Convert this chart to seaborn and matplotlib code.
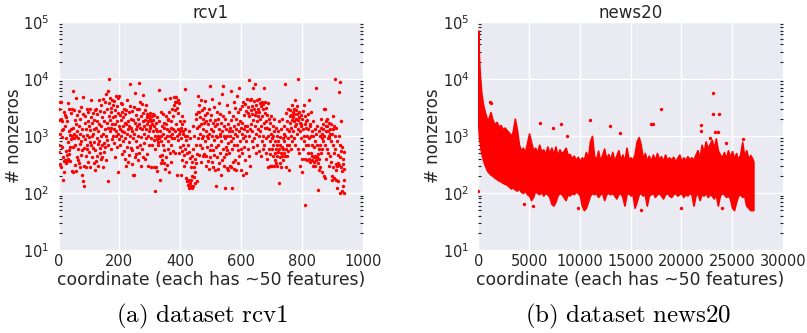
import matplotlib
matplotlib.use("Agg")
import matplotlib.pyplot as plt
from matplotlib.ticker import LogLocator, NullFormatter
import seaborn as sns
import numpy as np
import pandas as pd

# rcv1: nonzeros per coordinate (coordinate = position in the list)
rcv1_nnz = [
    700, 3000, 520, 1900, 320, 4000, 1100, 2000, 280, 3900, 1250, 650, 1800, 950, 170, 1300, 420, 2600, 360, 230,
    1500, 380, 2300, 550, 900, 330, 2100, 460, 1800, 360, 3700, 780, 400, 1200, 480, 2900, 560, 1050, 360, 640,
    2500, 880, 1300, 240, 1000, 3000, 650, 1400, 230, 6000, 900, 2800, 1100, 310, 1900, 700, 240, 1600, 1000, 4600,
    420, 1200, 2300, 600, 380, 900, 2700, 330, 1500, 720, 2000, 280, 1100, 460, 3200, 800, 210, 1300, 560, 2400,
    160, 1000, 4800, 300, 620, 130, 1700, 880, 2200, 290, 1300, 450, 2900, 700, 1050, 600, 1800, 350, 2600, 950,
    1500, 520, 3000, 780, 1250, 290, 2100, 680, 4300, 1000, 420, 1700, 620, 2500, 1100, 340, 1900, 780, 1300, 250,
    2800, 560, 1400, 370, 3000, 900, 1800, 450, 2400, 720, 1200, 300, 4200, 820, 1600, 510, 2700, 610, 1000, 390,
    1500, 3500, 690, 2100, 430, 1100, 4500, 280, 1800, 760, 2600, 520, 1300, 3900, 640, 1000, 5500, 380, 1700, 860,
    2900, 160, 1400, 6000, 700, 2200, 3700, 10000, 1200, 4700, 1900, 590, 2600, 1400, 3100, 880, 4200, 1600, 2100, 1000,
    3500, 1300, 4100, 750, 2200, 1600, 420, 2800, 1200, 5000, 980, 3300, 650, 1800, 2500, 1100, 4600, 230, 1500, 870,
    4900, 1300, 2300, 700, 3800, 1000, 1900, 480, 2600, 1200, 3600, 820, 1500, 2100, 550, 3000, 1150, 1700, 400, 2400,
    900, 1600, 300, 2800, 1100, 4200, 650, 1800, 350, 1300, 2600, 780, 1500, 460, 3300, 1000, 8000, 620, 2000, 1400,
    560, 2700, 320, 1200, 210, 1900, 900, 210, 3200, 1100, 5600, 420, 1700, 800, 2300, 480, 1300, 2900, 650, 1500,
    2000, 380, 1000, 8500, 1600, 500, 3000, 700, 1400, 4000, 2200, 300, 950, 3600, 1300, 600, 2500, 420, 1800, 5200,
    1100, 750, 1500, 2800, 400, 1900, 3500, 900, 1300, 2100, 480, 1600, 2400, 1000, 1800, 300, 2200, 1200, 700, 1500,
    2000, 1400, 2500, 900, 1800, 290, 2200, 1600, 700, 2400, 1200, 1900, 280, 850, 1500, 2300, 600, 1000, 110, 1700,
    280, 1300, 870, 240, 2100, 1200, 680, 1000, 780, 6400, 900, 1800, 440, 1200, 170, 800, 2600, 330, 1000, 460,
    1500, 380, 2400, 700, 1100, 330, 1700, 560, 1400, 260, 4500, 900, 1600, 420, 2200, 1000, 310, 1300, 600, 2000,
    800, 1900, 230, 1200, 2600, 500, 1000, 4600, 700, 1400, 350, 1800, 900, 3000, 1100, 550, 2200, 1300, 4800, 900,
    3500, 1200, 4000, 2800, 500, 3900, 1600, 4800, 1000, 3100, 210, 1300, 4200, 850, 2500, 1100, 3700, 500, 1800, 1200,
    650, 1400, 210, 900, 1600, 550, 2200, 380, 1200, 700, 1100, 460, 1800, 300, 1000, 6500, 600, 1300, 350, 850,
    180, 1000, 160, 500, 140, 700, 170, 1200, 120, 520, 160, 410, 150, 900, 130, 280, 170, 450, 120, 350,
    200, 1500, 130, 600, 190, 280, 1000, 150, 400, 230, 2400, 330, 700, 2000, 160, 1400, 490, 2600, 900, 5000,
    1500, 2600, 460, 3500, 1100, 700, 2100, 350, 1600, 4200, 900, 2800, 620, 1300, 450, 2000, 1000, 3100, 1700, 480,
    2300, 800, 4100, 1200, 300, 1800, 450, 1000, 2500, 630, 370, 1600, 900, 3000, 260, 1100, 560, 1900, 420, 7500,
    1300, 700, 2300, 350, 1000, 4500, 560, 1700, 290, 1200, 850, 3200, 470, 1500, 250, 1900, 130, 1000, 640, 2600,
    430, 1600, 950, 260, 2000, 700, 1300, 340, 3700, 1000, 500, 2400, 1100, 210, 1700, 800, 5500, 380, 1200, 600,
    2200, 7500, 1000, 420, 1500, 300, 900, 120, 2000, 650, 1300, 480, 3500, 270, 1000, 560, 1600, 750, 250, 1200,
    500, 2600, 1000, 300, 1400, 6000, 280, 800, 1900, 120, 600, 1200, 350, 2200, 900, 260, 1500, 4000, 700, 1100,
    380, 3100, 1300, 250, 2000, 700, 5000, 1000, 1600, 330, 2600, 560, 1200, 7000, 450, 1800, 800, 2900, 600, 1400,
    250, 1100, 3300, 500, 1700, 210, 900, 4000, 650, 1300, 2300, 380, 1000, 3600, 1500, 220, 2700, 800, 1200, 4500,
    1500, 2500, 600, 3200, 9500, 1000, 2200, 450, 4300, 1300, 300, 2800, 1600, 4500, 800, 3400, 1200, 2400, 650, 7000,
    1900, 4100, 900, 3000, 8000, 1500, 2300, 500, 3500, 1100, 2600, 4200, 700, 1800, 3000, 1300, 2200, 550, 4500, 1000,
    2600, 3700, 1200, 2000, 450, 3300, 1500, 800, 4000, 2200, 600, 2900, 1000, 3600, 1700, 6800, 700, 2500, 1400, 4000,
    500, 1800, 3100, 900, 2300, 400, 1400, 3800, 280, 1000, 2000, 600, 1300, 300, 800, 1700, 480, 1100, 300, 2200,
    600, 900, 300, 1500, 450, 1000, 700, 2000, 300, 1200, 500, 800, 380, 1400, 600, 330, 1000, 450, 700, 300,
    1200, 520, 800, 150, 600, 1800, 420, 950, 330, 700, 500, 1300, 290, 650, 2000, 440, 900, 600, 380, 1100,
    500, 1500, 800, 8000, 450, 1000, 600, 2500, 280, 1300, 700, 450, 1800, 900, 3000, 550, 1200, 250, 700, 2200,
    1700, 2800, 1000, 600, 2300, 1400, 3500, 800, 1900, 2100, 2600, 1200, 3000, 1800, 900, 2400, 1500, 4200, 700, 2000,
    2800, 1600, 3300, 1100, 2400, 600, 1900, 10000, 1300, 2100, 500, 2600, 1700, 300, 1200, 2300, 1500, 900, 1600, 230,
    2000, 400, 1300, 2700, 600, 1000, 3500, 800, 1600, 400, 2200, 62, 1800, 700, 1400, 380, 1900, 1000, 2400, 500,
    1300, 700, 4300, 400, 900, 1500, 1600, 350, 1000, 2600, 500, 1200, 380, 700, 450, 1800, 300, 1000, 420, 650,
    350, 1300, 450, 800, 300, 6800, 1100, 380, 700, 420, 1500, 330, 112, 480, 250, 1200, 600, 400, 1000, 280,
    700, 1400, 500, 2000, 900, 230, 1100, 600, 1600, 1300, 800, 3000, 200, 1000, 180, 2900, 700, 1800, 400, 1200,
    1500, 1500, 600, 2000, 900, 1200, 500, 900, 1700, 300, 1000, 450, 1300, 1100, 800, 1600, 350, 1100, 200, 170,
    1300, 280, 700, 2200, 500, 180, 1500, 10000, 1000, 600, 250, 320, 170, 1400, 300, 120, 800, 160, 330, 460,
    5900, 1000, 310, 100, 700, 430, 8800, 1800, 280, 550, 110, 240, 650, 320, 130, 400, 170, 520, 260, 100,
]

# news20: dense band of points, read as lower / upper edge of the red cloud
news20_band_x = [
    0, 30, 60, 100, 150, 200, 250, 300, 400, 500, 600, 700, 800, 900,
    1000, 1200, 1400, 1600, 1800, 2000, 2200, 2400, 2600, 2800,
    3000, 3200, 3400, 3600, 3800, 4000, 4200, 4400, 4600, 4800,
    5000, 5200, 5400, 5600, 5800, 6000, 6200, 6400, 6600, 6800,
    7000, 7200, 7400, 7600, 7800, 8000, 8200, 8400, 8600, 8800,
    9000, 9200, 9400, 9600, 9800, 10000, 10200, 10400, 10600, 10800,
    11000, 11200, 11400, 11600, 11800, 12000, 12200, 12400, 12600, 12800,
    13000, 13200, 13400, 13600, 13800, 14000, 14200, 14400, 14600, 14800,
    15000, 15200, 15400, 15600, 15800, 16000, 16200, 16400, 16600, 16800,
    17000, 17200, 17400, 17600, 17800, 18000, 18200, 18400, 18600, 18800,
    19000, 19200, 19400, 19600, 19800, 20000, 20200, 20400, 20600, 20800,
    21000, 21200, 21400, 21600, 21800, 22000, 22200, 22400, 22600, 22800,
    23000, 23200, 23400, 23600, 23800, 24000, 24200, 24400, 24600, 24800,
    25000, 25200, 25400, 25600, 25800, 26000, 26200, 26400, 26600, 26800,
    27000, 27100,
]
news20_band_hi = [
    70000, 40000, 25000, 17000, 12000, 9000, 7000, 5500, 4200, 3300, 2800, 2400, 2100, 1900,
    2000, 2600, 1900, 1600, 1750, 1450, 1550, 1300, 1400, 1250,
    1150, 1000, 1200, 2000, 1300, 700, 560, 620, 520, 750,
    1100, 780, 560, 620, 500, 700, 530, 580, 480, 650,
    500, 620, 470, 650, 450, 580, 490, 540, 620, 470,
    480, 400, 450, 380, 430, 360, 420, 380, 520, 400,
    800, 1000, 450, 380, 550, 370, 460, 600, 390, 480,
    380, 520, 370, 450, 560, 380, 470, 360, 620, 390,
    420, 380, 480, 800, 950, 700, 400, 500, 370, 450,
    360, 470, 380, 500, 390, 440, 360, 470, 380, 420,
    380, 430, 360, 410, 470, 360, 420, 380, 440, 390,
    420, 380, 470, 560, 400, 700, 520, 800, 600, 720,
    850, 600, 900, 560, 470, 420, 520, 400, 560, 420,
    540, 400, 500, 380, 470, 780, 440, 560, 400, 460,
    400, 350,
]
news20_band_lo = [
    1500, 1200, 1000, 850, 750, 650, 560, 500, 420, 360, 320, 290, 260, 240,
    230, 210, 200, 185, 175, 165, 160, 150, 145, 140,
    130, 120, 125, 115, 110, 120, 105, 100, 110, 95,
    90, 75, 85, 110, 100, 95, 105, 90, 100, 95,
    85, 65, 60, 70, 90, 100, 95, 85, 75, 95,
    90, 100, 95, 105, 100, 90, 60, 50, 55, 70,
    90, 100, 95, 100, 85, 95, 100, 75, 95, 100,
    95, 100, 90, 80, 95, 100, 85, 60, 95, 100,
    90, 95, 55, 70, 95, 100, 90, 95, 60, 90,
    95, 100, 85, 95, 100, 90, 80, 95, 100, 90,
    85, 95, 100, 90, 95, 100, 85, 95, 90, 100,
    95, 60, 90, 100, 75, 95, 90, 100, 85, 95,
    90, 80, 95, 60, 90, 100, 95, 85, 90, 80,
    55, 50, 70, 90, 95, 85, 90, 60, 55, 50,
    50, 50,
]
# news20: isolated points outside the band
news20_out_x = [0, 1150, 1220, 6100, 7400, 8100, 8700, 10990, 12990, 13940,
                17000, 17250, 17970, 21940, 21940, 22820, 23150, 23150, 23350,
                23650, 23740, 24400, 26050, 4500, 5400, 9800, 16000, 20000, 24000]
news20_out_y = [110, 4000, 3800, 1700, 1350, 1600, 1000, 1900, 1500, 1120,
                1600, 1600, 2900, 1550, 1200, 900, 5700, 2400, 1150,
                1150, 2400, 760, 870, 65, 60, 55, 50, 55, 55]

captions = [r"$\mathrm{(a)\ dataset\ rcv1}$", r"$\mathrm{(b)\ dataset\ news20}$"]
titles = ["rcv1", "news20"]
xlabel = "coordinate (each has ~50 features)"
ylabel = "# nonzeros"

sns.set_theme(style="darkgrid")
plt.rcParams["font.family"] = ["DejaVu Sans"]
text_color = "#262626"

fig = plt.figure(figsize=(8.07, 3.33), dpi=100)
ax1 = fig.add_axes([0.0725, 0.2492, 0.3773, 0.6856])
ax2 = fig.add_axes([0.5927, 0.2492, 0.3773, 0.6856])

rcv1_df = pd.DataFrame({"coord": np.arange(len(rcv1_nnz)), "nnz": rcv1_nnz})
sns.scatterplot(data=rcv1_df, x="coord", y="nnz", ax=ax1, color="red",
                s=6, linewidth=0, zorder=3)

ax2.fill_between(news20_band_x, news20_band_lo, news20_band_hi, color="red",
                 linewidth=1.2, edgecolor="red", zorder=3)
out_df = pd.DataFrame({"coord": news20_out_x, "nnz": news20_out_y})
sns.scatterplot(data=out_df, x="coord", y="nnz", ax=ax2, color="red",
                s=6, linewidth=0, zorder=3)

for ax, title, xmax, step in [(ax1, titles[0], 1000, 200), (ax2, titles[1], 30000, 5000)]:
    ax.set_yscale("log")
    ax.set_ylim(10, 1e5)
    ax.set_xlim(0, xmax)
    ax.set_xticks(np.arange(0, xmax + 1, step))
    ax.yaxis.set_minor_locator(LogLocator(base=10, subs=np.arange(2, 10)))
    ax.yaxis.set_minor_formatter(NullFormatter())
    ax.set_title(title, fontsize=12, color=text_color, pad=3)
    ax.set_xlabel(xlabel, fontsize=12.4, color=text_color, labelpad=1)
    ax.set_ylabel(ylabel, fontsize=12, color=text_color)
    ax.yaxis.set_label_coords(-0.118, 0.5)
    ax.tick_params(axis="both", which="major", labelsize=10.5, length=0,
                   labelcolor=text_color)
    ax.tick_params(axis="x", which="major", pad=3)
    ax.tick_params(axis="y", which="major", pad=6.5)
    ax.tick_params(axis="y", which="minor", left=True, right=True,
                   direction="in", length=2.5, width=0.8, color="#222222")
    ax.grid(True, which="major", color="white", linewidth=1)
    ax.grid(False, which="minor")
    ax.set_axisbelow(False)
    for sp in ax.spines.values():
        sp.set_visible(False)

for cx, cap in zip([202, 628], captions):
    fig.text(cx / 807, 1 - 316 / 333, cap, ha="center", va="center",
             fontsize=18, color="black", math_fontfamily="cm")

fig.savefig("out.png", dpi=100)
